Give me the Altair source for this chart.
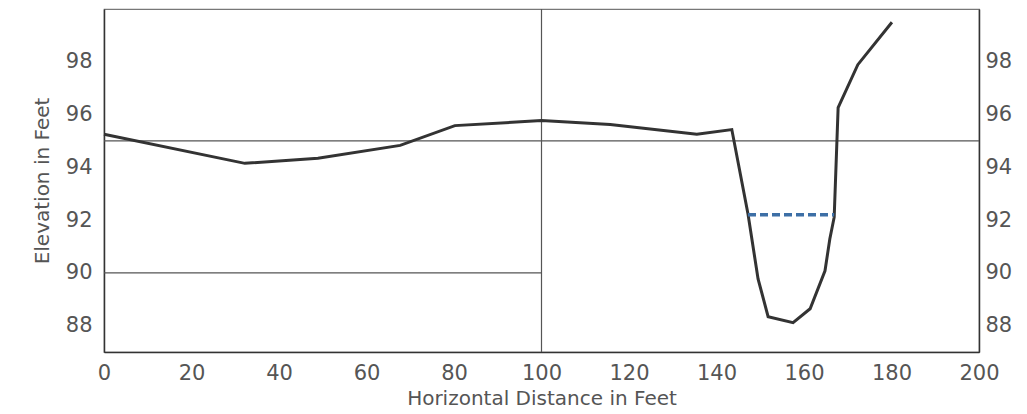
import altair as alt
import pandas as pd

# Surveyed cross-section: horizontal distance (ft) and ground elevation (ft)
distance = [0, 32.2, 48.9, 67.7, 80.2, 100.0, 115.7, 135.5, 143.5, 147.2,
            149.5, 151.8, 157.5, 161.4, 164.8, 165.9, 166.9, 167.8, 172.3, 180.1]
elevation = [95.25, 94.15, 94.34, 94.83, 95.58, 95.77, 95.62, 95.25, 95.43, 92.23,
             89.77, 88.34, 88.11, 88.64, 90.08, 91.28, 92.11, 96.26, 97.89, 99.5]

# Water surface across the channel
water_x = [147.2, 166.9]
water_y = [92.2, 92.2]

# Reference lines on the section sheet
ref_h_y = [95.0, 90.0]
ref_h_x0 = [0, 0]
ref_h_x1 = [200, 100]
ref_v_x = [100]

x_ticks = list(range(0, 201, 20))
y_ticks = [88, 90, 92, 94, 96, 98]

profile = pd.DataFrame({"x": distance, "y": elevation, "order": range(len(distance))})
water = pd.DataFrame({"x": water_x, "y": water_y})
href = pd.DataFrame({"y": ref_h_y, "x0": ref_h_x0, "x1": ref_h_x1})
vref = pd.DataFrame({"x": ref_v_x})

FONT = "DejaVu Sans"
TXT = "#555555"

xscale = alt.Scale(domain=[0, 200], nice=False, zero=False)
yscale = alt.Scale(domain=[87, 100], nice=False, zero=False)

x_axis = alt.Axis(values=x_ticks, title="Horizontal Distance in Feet", ticks=False,
                  grid=False, labelFontSize=21, labelColor=TXT, labelFont=FONT,
                  labelPadding=10, titleFontSize=20, titleColor=TXT, titleFont=FONT,
                  titleFontWeight="normal", titlePadding=5, domainColor="#333333",
                  domainWidth=1.5, labelFlush=False)
y_axis_left = alt.Axis(values=y_ticks, title="Elevation in Feet", ticks=False,
                       grid=False, labelFontSize=21, labelColor=TXT, labelFont=FONT,
                       labelPadding=12, titleFontSize=20, titleColor=TXT,
                       titleFont=FONT, titleFontWeight="normal", titlePadding=13,
                       domainColor="#333333", domainWidth=1.5)
y_axis_right = alt.Axis(values=y_ticks, orient="right", title=None, ticks=False,
                        grid=False, labelFontSize=21, labelColor=TXT, labelFont=FONT,
                        labelPadding=6, domainColor="#333333", domainWidth=1.5)

hlines = alt.Chart(href).mark_rule(color="#555555", strokeWidth=1.2).encode(
    x=alt.X("x0:Q", scale=xscale, axis=x_axis),
    x2="x1:Q",
    y=alt.Y("y:Q", scale=yscale, axis=y_axis_left),
)
vlines = alt.Chart(vref).mark_rule(color="#555555", strokeWidth=1.2).encode(
    x=alt.X("x:Q", scale=xscale, axis=x_axis),
)
ground = alt.Chart(profile).mark_line(color="#333333", strokeWidth=3).encode(
    x=alt.X("x:Q", scale=xscale, axis=x_axis),
    y=alt.Y("y:Q", scale=yscale, axis=None),
    order="order:Q",
)
surface = alt.Chart(water).mark_line(color="#3d6fa6", strokeWidth=3.5,
                                      strokeDash=[8, 4]).encode(
    x=alt.X("x:Q", scale=xscale, axis=x_axis),
    y=alt.Y("y:Q", scale=yscale, axis=y_axis_right),
)

chart = (
    alt.layer(hlines, vlines, ground, surface)
    .resolve_axis(y="independent")
    .resolve_scale(y="shared")
    .properties(width=875, height=343, background="white",
                padding={"left": 104, "top": 9, "right": 48, "bottom": 62},
                autosize=alt.AutoSizeParams(type="none"))
    .configure_view(stroke="#777777", strokeWidth=1.2)
)

chart.save("out.html", embed_options={"renderer": "svg", "actions": False})
